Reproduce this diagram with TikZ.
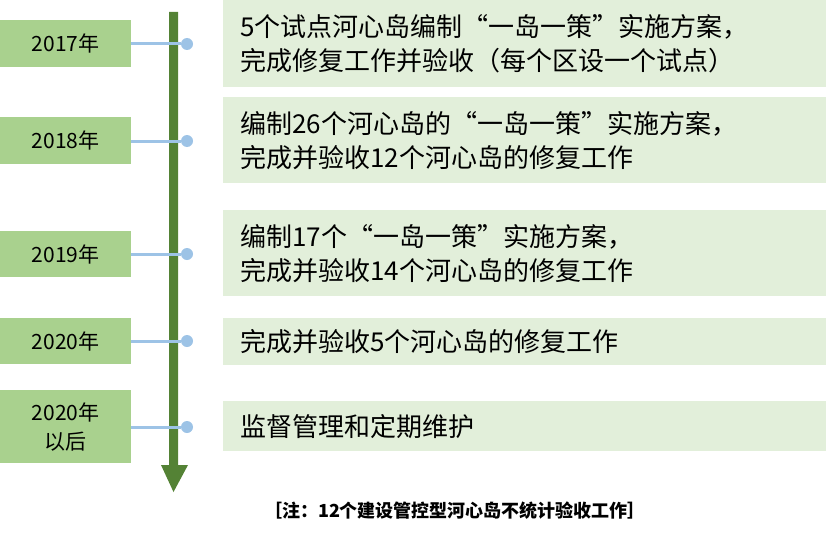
\documentclass[tikz,border=0pt]{standalone}
\usepackage{fontspec}
\setmainfont{Carlito}
\newfontfamily\cjk{Noto Sans CJK SC}
\begin{document}
\begin{tikzpicture}[x=1pt,y=-1pt,
 yr/.style={fill=yrgreen,draw=none,minimum width=131pt,anchor=north west,inner sep=0pt,align=center,font=\cjk\fontsize{21}{29}\selectfont},
 tx/.style={fill=txgreen,draw=none,minimum width=603pt,text width=585pt,anchor=north west,inner sep=0pt,align=left,font=\cjk\fontsize{26}{34}\selectfont},
 link/.style={draw=lnblue,line width=3pt},
 dot/.style={circle,fill=lnblue,inner sep=0pt,minimum size=12pt}]
\definecolor{yrgreen}{HTML}{A9D18E}
\definecolor{txgreen}{HTML}{E2EFDA}
\definecolor{lnblue}{HTML}{9DC3E6}
\definecolor{arr}{HTML}{548235}
\useasboundingbox (0,0) rectangle (826,535);
\node[yr,minimum height=47pt] (y1) at (0,20) {2017年};
\node[yr,minimum height=47pt] (y2) at (0,117) {2018年};
\node[yr,minimum height=46pt] (y3) at (0,231) {2019年};
\node[yr,minimum height=46pt] (y4) at (0,318) {2020年};
\node[yr,minimum height=73pt] (y5) at (0,390) {2020年\\以后};
\node[tx,minimum height=87pt] (t1) at (223,0) {\hspace*{8pt}5个试点河心岛编制“一岛一策”实施方案，\\\hspace*{8pt}完成修复工作并验收（每个区设一个试点）};
\node[tx,minimum height=86pt] (t2) at (223,97) {\hspace*{8pt}编制26个河心岛的“一岛一策”实施方案，\\\hspace*{8pt}完成并验收12个河心岛的修复工作};
\node[tx,minimum height=86pt] (t3) at (223,210) {\hspace*{8pt}编制17个“一岛一策”实施方案，\\\hspace*{8pt}完成并验收14个河心岛的修复工作};
\node[tx,minimum height=47pt] (t4) at (223,318) {\hspace*{8pt}完成并验收5个河心岛的修复工作};
\node[tx,minimum height=50pt] (t5) at (223,401) {\hspace*{8pt}监督管理和定期维护};
\coordinate (top) at (173.5,12);
\coordinate (bot) at (173.5,492);
\fill[arr] (169,12) -- (178,12) -- (178,465) -- (188,465) -- (bot) -- (161,465) -- (169,465) -- cycle;
\foreach \i/\yy in {1/44,2/141,3/254,4/341,5/427}{
  \node[dot] (d\i) at (187,\yy) {};
  \draw[link] (y\i.east |- d\i) -- (d\i);
}
\node[font=\cjk\bfseries\fontsize{18}{20}\selectfont] (note) at (455,511) {［注：12个建设管控型河心岛不统计验收工作］};
\end{tikzpicture}
\end{document}
